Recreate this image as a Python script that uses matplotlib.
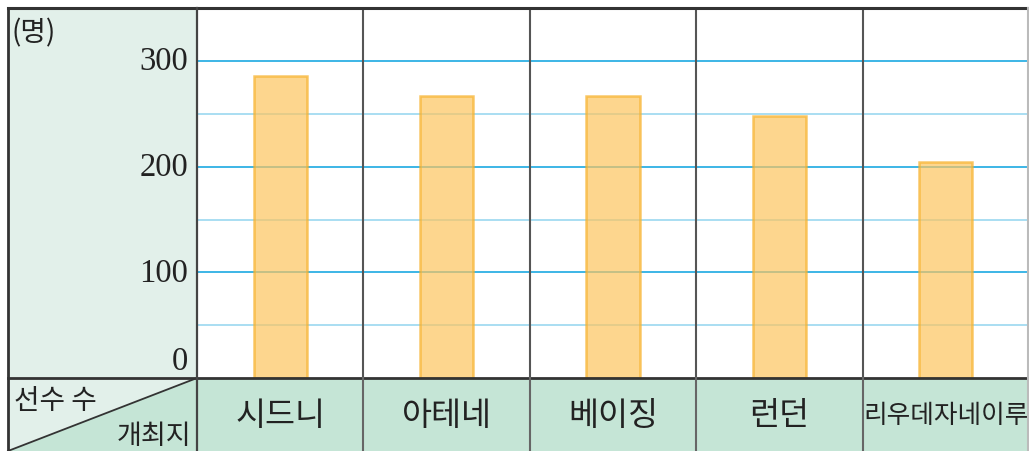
import matplotlib
matplotlib.use("Agg")
import matplotlib.pyplot as plt
from matplotlib.patches import Rectangle, Polygon

plt.rcParams['font.family'] = ['Noto Sans CJK KR', 'DejaVu Sans']

cities = ['시드니', '아테네', '베이징', '런던', '리우데자네이루']
players = [286, 267, 267, 248, 204]
yticks = [0, 100, 200, 300]
unit_label = '(명)'
corner_top = '선수 수'
corner_bottom = '개최지'

W, H = 1029, 452
fig = plt.figure(figsize=(W / 100, H / 100), dpi=100)

def fx(px):
    return px / W

def fy(py):
    return 1 - py / H

left, right, top, base = 8, 1029, 9, 379
split = 197
px_per_unit = (base - 62) / 300

light = '#e2f0ea'
dark = '#c5e5d6'
# left column background
fig.patches.append(Rectangle((fx(left), fy(base)), fx(split) - fx(left), fy(top) - fy(base),
                             transform=fig.transFigure, facecolor=light, edgecolor='none', zorder=-2))
# bottom category row
fig.patches.append(Rectangle((fx(split), 0), fx(right) - fx(split), fy(base),
                             transform=fig.transFigure, facecolor=dark, edgecolor='none', zorder=-2))
# corner cell split diagonally
fig.patches.append(Polygon([(fx(left), 0), (fx(left), fy(base)), (fx(split), fy(base))],
                           closed=True, transform=fig.transFigure, facecolor=light,
                           edgecolor='none', zorder=-2))
fig.patches.append(Polygon([(fx(left), 0), (fx(split), fy(base)), (fx(split), 0)],
                           closed=True, transform=fig.transFigure, facecolor=dark,
                           edgecolor='none', zorder=-2))

ax = fig.add_axes([fx(split), fy(base), fx(right) - fx(split), fy(top) - fy(base)])
ax.set_facecolor('white')
ax.set_xlim(-0.5, len(cities) - 0.5)
ax.set_ylim(0, (base - top) / px_per_unit)

for v in range(50, 351, 50):
    if v % 100 == 0:
        ax.axhline(v, color='#3cb5e6', lw=1.4, zorder=1)
    else:
        ax.axhline(v, color='#a9def2', lw=1.4, zorder=1)

x = range(len(cities))
ax.bar(x, players, width=0.32, color='#fdc55e', alpha=0.7, edgecolor='#f7b12a',
       linewidth=1.8, zorder=2)

for i in range(1, len(cities)):
    ax.axvline(i - 0.5, color='#555555', lw=1.5, zorder=3)

ax.set_xticks([])
ax.set_yticks([])
for s in ax.spines.values():
    s.set_visible(False)

# y tick labels in the left column
for v in yticks:
    yp = base - v * px_per_unit
    if v == 0:
        yp = 362
    fig.text(fx(188), fy(yp), str(v), ha='right', va='center',
             fontsize=23.5, family='Liberation Serif', color='#222222')

fig.text(fx(12), fy(33), unit_label, ha='left', va='center', fontsize=20, color='#222222')

label_y = -(416 - base) / (base - top)
for i, c in enumerate(cities):
    size = 18.5 if len(c) > 5 else 23.5
    ax.text(i, label_y, c, transform=ax.get_xaxis_transform(), ha='center', va='center',
            fontsize=size, color='#222222', clip_on=False)

fig.text(fx(14), fy(401), corner_top, ha='left', va='center', fontsize=20, color='#222222')
fig.text(fx(191), fy(437), corner_bottom, ha='right', va='center', fontsize=19.5, color='#222222')

# table lines
def line(xs, ys, color, lw):
    fig.add_artist(plt.Line2D(xs, ys, transform=fig.transFigure, color=color, lw=lw, zorder=5))

line([fx(left), fx(split)], [0, fy(base)], '#333333', 1.3)
line([fx(left), fx(right)], [fy(top), fy(top)], '#333333', 2.2)
line([fx(left), fx(right)], [fy(base), fy(base)], '#333333', 2.0)
line([fx(left), fx(left)], [0, fy(top)], '#333333', 2.0)
line([fx(split), fx(split)], [0, fy(top)], '#444444', 1.6)
for i in range(1, len(cities)):
    xp = split + i * (right - split) / len(cities)
    line([fx(xp), fx(xp)], [0, fy(base)], '#666666', 1.5)
line([fx(right - 1), fx(right - 1)], [0, fy(top)], '#bbbbbb', 1.5)

fig.savefig('out.png', dpi=100)
